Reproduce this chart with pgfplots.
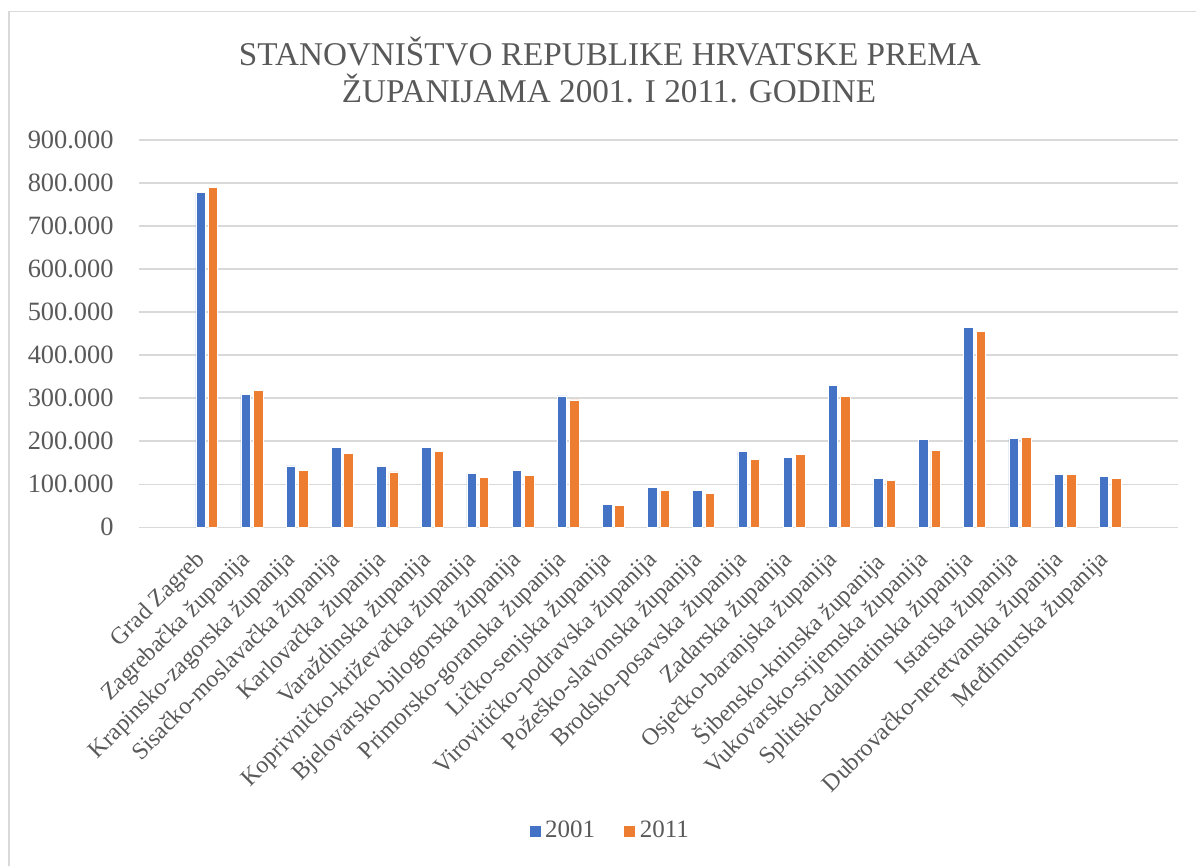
\documentclass[border=0pt]{standalone}
\usepackage{fontspec}
\setmainfont{Liberation Serif}
\usepackage{pgfplots}
\pgfplotsset{compat=1.18}
\usepackage{pgfplotstable}

\definecolor{cblue}{HTML}{4472C4}
\definecolor{corange}{HTML}{ED7D31}
\definecolor{ctext}{HTML}{595959}
\definecolor{cgrid}{HTML}{D9D9D9}

% stanovnistvo po zupanijama (popis 2001. i 2011.)
\pgfplotstableread{
idx y2001 y2011
0  779145 790017
1  309696 317606
2  142432 132892
3  185387 172439
4  141787 128899
5  184769 175951
6  124467 115584
7  133084 119764
8  305505 296195
9  53677  50927
10 93389  84836
11 85831  78034
12 176765 158575
13 162045 170017
14 330506 305032
15 112891 109375
16 204768 179521
17 463676 454798
18 206344 208055
19 122870 122568
20 118426 113804
}\zupanije

\begin{document}
\begin{tikzpicture}
% 1 px of the reference = 0.5pt
\path[use as bounding box] (0,0) rectangle (598pt,433pt);
\draw[cgrid, line width=0.75pt] (4.5pt,0) -- (4.5pt,427.2pt) -- (598pt,427.2pt);

\node[anchor=base, text=ctext, font=\fontsize{16.6}{19}\selectfont] at (305pt,400.25pt)
  {STANOVNIŠTVO REPUBLIKE HRVATSKE PREMA};
\node[anchor=base, text=ctext, font=\fontsize{16.6}{19}\selectfont] at (304.5pt,381.5pt)
  {ŽUPANIJAMA 2001. I 2011. GODINE};

\begin{axis}[
    at={(69.5pt,169.35pt)}, anchor=south west,
    scale only axis,
    width=519.5pt, height=193.65pt,
    ybar, bar width=4.75pt,
    xmin=-1.5, xmax=21.5,
    ymin=0, ymax=900000,
    ytick={0,100000,...,900000},
    scaled y ticks=false,
    tick label style={text=ctext, font=\fontsize{12}{14}\selectfont},
    yticklabel style={anchor=east, inner sep=0pt, xshift=-12.5pt,
        font=\fontsize{13.2}{15}\selectfont,
        /pgf/number format/fixed,
        /pgf/number format/1000 sep={.},
        /pgf/number format/assume math mode=true},
    xtick={0,...,20},
    xticklabels={Grad Zagreb, Zagrebačka županija, Krapinsko-zagorska županija,
        Sisačko-moslavačka županija, Karlovačka županija, Varaždinska županija,
        Koprivničko-križevačka županija, Bjelovarsko-bilogorska županija,
        Primorsko-goranska županija, Ličko-senjska županija,
        Virovitičko-podravska županija, Požeško-slavonska županija,
        Brodsko-posavska županija, Zadarska županija, Osječko-baranjska županija,
        Šibensko-kninska županija, Vukovarsko-srijemska županija,
        Splitsko-dalmatinska županija, Istarska županija,
        Dubrovačko-neretvanska županija, Međimurska županija},
    xticklabel style={rotate=45, anchor=north east, inner sep=0pt, yshift=-3pt, xshift=-12pt},
    major tick length=0pt,
    ymajorgrids, grid style={cgrid, line width=0.75pt},
    axis x line*=bottom, axis y line*=left,
    x axis line style={cgrid, line width=0.75pt, -},
    y axis line style={draw=none},
    legend columns=2,
    legend style={at={(0.454,-0.784)}, anchor=center, draw=none, fill=none,
        font=\fontsize{12.5}{15}\selectfont, text=ctext,
        /tikz/every even column/.append style={column sep=12pt}},
    legend image code/.code={\fill[#1] (0pt,-3pt) rectangle (6pt,3pt);},
]
\addplot[fill=cblue, draw=white, line width=0.3pt, bar shift=-3.1pt] table[x=idx, y=y2001] {\zupanije};
\addplot[fill=corange, draw=white, line width=0.3pt, bar shift=3.1pt] table[x=idx, y=y2011] {\zupanije};
\legend{2001, 2011}
\end{axis}
\end{tikzpicture}
\end{document}
